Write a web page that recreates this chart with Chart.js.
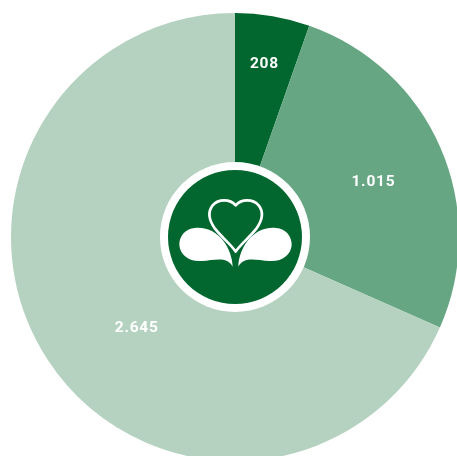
<!DOCTYPE html>
<html>
<head>
<meta charset="utf-8">
<script src="https://cdn.jsdelivr.net/npm/chart.js@4"></script>
<style>
html,body{margin:0;padding:0;background:#fff;width:457px;height:456px;overflow:hidden}
#c{position:absolute;left:11px;top:13px}
</style>
</head>
<body>
<canvas id="c" width="448" height="448"></canvas>
<script>
const categories = ['A', 'B', 'C'];
const values = [208, 1015, 2645];
const valueLabels = ['208', '1.015', '2.645'];
const colors = ['#01672f', '#66a683', '#b5d2c0'];
const labelRadius = [175, 149, 134];
const labelAngleShift = [0, 0.03, -0.17];

function leaf(ctx) {
  ctx.beginPath();
  ctx.moveTo(248, 350);
  ctx.bezierCurveTo(246, 295, 205, 228, 135, 234);
  ctx.bezierCurveTo(105, 236, 87, 260, 88, 285);
  ctx.bezierCurveTo(90, 315, 118, 336, 155, 333);
  ctx.bezierCurveTo(195, 330, 232, 318, 248, 350);
  ctx.closePath();
  ctx.fill();
}

const overlay = {
  id: 'overlay',
  afterDatasetsDraw(chart) {
    const ctx = chart.ctx;
    const arcs = chart.getDatasetMeta(0).data;
    const cx = arcs[0].x, cy = arcs[0].y;
    ctx.save();
    ctx.fillStyle = '#fff';
    ctx.font = '700 15.5px "Roboto"';
    ctx.letterSpacing = '0.8px';
    ctx.textAlign = 'center';
    ctx.textBaseline = 'middle';
    arcs.forEach((a, i) => {
      const ang = (a.startAngle + a.endAngle) / 2 + labelAngleShift[i];
      ctx.fillText(valueLabels[i], cx + Math.cos(ang) * labelRadius[i], cy + Math.sin(ang) * labelRadius[i]);
    });
    ctx.restore();

    ctx.save();
    ctx.translate(cx, cy);
    ctx.beginPath(); ctx.arc(0, 0, 75, 0, Math.PI * 2); ctx.fillStyle = '#fff'; ctx.fill();
    ctx.beginPath(); ctx.arc(0, 0, 67, 0, Math.PI * 2); ctx.fillStyle = '#01672f'; ctx.fill();
    ctx.scale(1 / 3, 1 / 3);
    ctx.translate(-255, -261);
    ctx.fillStyle = '#fff';
    leaf(ctx);
    ctx.save();
    ctx.translate(513, 0);
    ctx.scale(-1, 1);
    leaf(ctx);
    ctx.restore();
    ctx.beginPath();
    ctx.moveTo(257, 166);
    ctx.bezierCurveTo(240, 146, 205, 146, 188, 166);
    ctx.bezierCurveTo(172, 186, 178, 212, 195, 236);
    ctx.bezierCurveTo(215, 262, 245, 285, 257, 305);
    ctx.bezierCurveTo(269, 285, 299, 262, 319, 236);
    ctx.bezierCurveTo(336, 212, 342, 186, 326, 166);
    ctx.bezierCurveTo(309, 146, 274, 146, 257, 166);
    ctx.closePath();
    ctx.strokeStyle = '#fff';
    ctx.lineWidth = 8;
    ctx.lineJoin = 'round';
    ctx.stroke();
    ctx.restore();
  }
};

new Chart(document.getElementById('c'), {
  type: 'pie',
  data: {
    labels: categories,
    datasets: [{ data: values, backgroundColor: colors, borderWidth: 0 }]
  },
  options: {
    responsive: false,
    animation: false,
    layout: { padding: 0 },
    plugins: { legend: { display: false }, tooltip: { enabled: false } }
  },
  plugins: [overlay]
});
</script>
</body>
</html>
